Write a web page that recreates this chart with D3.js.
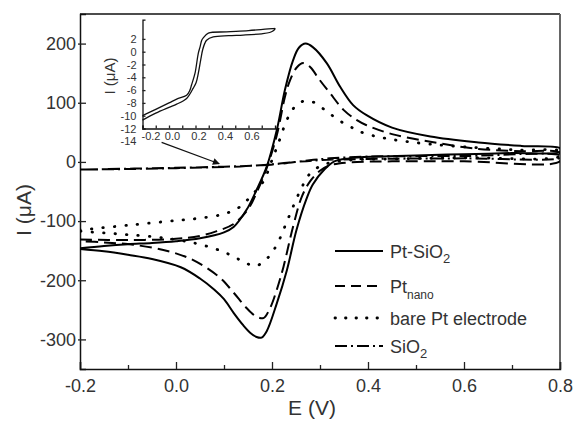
<!DOCTYPE html>
<html lang="en">
<head>
<meta charset="UTF-8">
<title>Cyclic voltammograms</title>
<script src="https://d3js.org/d3.v7.min.js"></script>
<style>
  body { margin: 0; background: #fff; }
  svg { display: block; font-family: "Liberation Sans", Arial, sans-serif; }
  .tick text { fill: #333; }
  .domain { stroke: #111; stroke-width: 1.5; }
  .tick line { stroke: #222; stroke-width: 1.3; }
</style>
</head>
<body>
<svg id="chart" width="575" height="421"></svg>
<script>
// values: E in V, I in µA, each loop = forward scan then reverse scan
const ptSiO2E = [-0.2, -0.15, -0.1, -0.05, 0.0, 0.05, 0.1, 0.12, 0.147, 0.168, 0.189, 0.21, 0.227, 0.244, 0.256, 0.27, 0.285, 0.314, 0.342, 0.369, 0.397, 0.45, 0.53, 0.63, 0.72, 0.8,
                 0.8, 0.7, 0.6, 0.5, 0.42, 0.36, 0.33, 0.31, 0.285, 0.272, 0.251, 0.231, 0.21, 0.189, 0.178, 0.168, 0.155, 0.14, 0.12, 0.1, 0.08, 0.05, 0.01, -0.05, -0.1, -0.15, -0.2];
const ptSiO2I = [-146, -142, -139, -137, -134, -129, -119, -110, -81, -47, -8, 54, 122, 172, 193, 200, 194, 167, 127, 96, 79, 58, 43, 33, 27, 23,
                 17, 15, 13, 11, 9, 6, 1, -12, -38, -62, -115, -183, -239, -286, -297, -296, -289, -276, -255, -232, -216, -197, -178, -164, -157, -151, -147];

const ptNanoE = [-0.2, -0.1, 0.0, 0.05, 0.085, 0.12, 0.15, 0.17, 0.19, 0.21, 0.227, 0.2375, 0.252, 0.265, 0.28, 0.297, 0.321, 0.349, 0.376, 0.397, 0.45, 0.53, 0.63, 0.72, 0.8,
                 0.8, 0.6, 0.45, 0.36, 0.32, 0.3, 0.28, 0.262, 0.244, 0.224, 0.21, 0.196, 0.182, 0.165, 0.147, 0.119, 0.092, 0.036, -0.02, -0.089, -0.15, -0.2];
const ptNanoI = [-131, -132, -130, -125, -117, -105, -80, -48, -8, 45, 110, 138, 160, 167, 160, 141, 116, 88, 71, 62, 47, 34, 22, 18, 15,
                 1, 1, 1, -1, -6, -15, -32, -59, -109, -177, -216, -247, -264, -260, -247, -220, -196, -166, -150, -140, -136, -134];

const barePtE = [-0.2, -0.1, 0.0, 0.05, 0.1, 0.133, 0.158, 0.182, 0.2, 0.213, 0.234, 0.255, 0.279, 0.31, 0.338, 0.369, 0.394, 0.45, 0.53, 0.63, 0.72, 0.8,
                 0.8, 0.6, 0.45, 0.36, 0.31, 0.28, 0.258, 0.234, 0.21, 0.19, 0.165, 0.137, 0.099, 0.043, -0.03, -0.1, -0.15, -0.2];
const barePtI = [-115, -107, -99, -95, -88, -76, -56, -33, 3, 31, 76, 99, 103, 88, 71, 57, 48, 38, 30, 24, 20, 18,
                 10, 7, 5, 3, -4, -19, -50, -95, -140, -163, -176, -167, -152, -138, -128, -123, -120, -117];

const sio2E = [-0.2, -0.1, 0.0, 0.1, 0.15, 0.2, 0.25, 0.3, 0.4, 0.6, 0.8,
               0.8, 0.6, 0.4, 0.32, 0.27, 0.22, 0.17, 0.1, 0.0, -0.1, -0.2];
const sio2I = [-13, -12, -10.5, -8.5, -7, -4, 0, 3, 5, 6, 7,
               11, 10, 9, 6, 2, -3, -6, -8, -10, -11.5, -13];

// inset: SiO2 electrode alone
const insetE = [-0.2, -0.1, 0.0, 0.058, 0.133, 0.183, 0.205, 0.221, 0.24, 0.254, 0.27, 0.284, 0.334, 0.45, 0.56, 0.7, 0.76, 0.79, 0.8,
                0.78, 0.6, 0.435, 0.297, 0.26, 0.247, 0.235, 0.221, 0.196, 0.17, 0.158, 0.133, 0.058, 0.0, -0.1, -0.2];
const insetI = [-10.7, -9.6, -8.7, -8.2, -7.3, -5.7, -4.8, -3.4, -1.2, 0.3, 1.3, 1.8, 2.3, 2.5, 2.6, 2.8, 3.0, 3.3, 3.6,
                3.6, 3.3, 3.1, 2.9, 2.2, 1.8, 0.8, -0.25, -3.4, -5.2, -6.0, -6.8, -7.4, -8.0, -9.0, -10.0];

const xTicks = [-0.2, 0.0, 0.2, 0.4, 0.6, 0.8];
const xMinorTicks = [-0.1, 0.1, 0.3, 0.5, 0.7];
const yTicks = [-300, -200, -100, 0, 100, 200];
const insetXTicks = [-0.2, -0.1, 0.0, 0.1, 0.2, 0.3, 0.4, 0.5, 0.6, 0.7];
const insetXLabels = [-0.2, 0.0, 0.2, 0.4, 0.6];
const insetYTicks = [-14, -12, -10, -8, -6, -4, -2, 0, 2];

const legendLabels = [["Pt-SiO", "2"], ["Pt", "nano"], ["bare Pt electrode", ""], ["SiO", "2"]];
const dashes = ["none", "12,6", "0.5,11", "12,4,2,4"];
const legendDashes = ["none", "10,6", "0.5,10", "12,4,2,4"];

const margin = { top: 14, right: 15, bottom: 52, left: 80 };
const width = 575 - margin.left - margin.right;
const height = 421 - margin.top - margin.bottom;

// plain hyphen for negative numbers, like the original
const fmt1 = d => d.toFixed(1);
const fmt0 = d => String(d);

const svg = d3.select("#chart");
const g = svg.append("g").attr("transform", `translate(${margin.left},${margin.top})`);

const x = d3.scaleLinear().domain([-0.2, 0.8]).range([0, width]);
const y = d3.scaleLinear().domain([-350, 250]).range([height, 0]);

g.append("clipPath").attr("id", "plotClip")
    .append("rect").attr("width", width).attr("height", height);

// frame top / right
g.append("line").attr("x1", 0).attr("x2", width).attr("y1", 0).attr("y2", 0)
    .attr("stroke", "#111").attr("stroke-width", 1.5);
g.append("line").attr("x1", width).attr("x2", width).attr("y1", 0).attr("y2", height)
    .attr("stroke", "#666").attr("stroke-width", 2);

// axes
g.append("g")
    .attr("transform", `translate(0,${height})`)
    .call(d3.axisBottom(x).tickValues(xTicks).tickSize(-7).tickPadding(10).tickFormat(fmt1))
    .call(a => a.selectAll("text").attr("font-size", 18).attr("font-family", "Liberation Sans, Arial, sans-serif"));

g.append("g")
    .attr("transform", `translate(0,${height})`)
    .call(d3.axisBottom(x).tickValues(xMinorTicks).tickSize(-4).tickFormat(""))
    .call(a => a.select(".domain").remove());

g.append("g")
    .call(d3.axisLeft(y).tickValues(yTicks).tickSize(-6).tickPadding(4).tickFormat(fmt0))
    .call(a => a.selectAll(".tick line").attr("x1", -2))
    .call(a => a.selectAll("text").attr("font-size", 18).attr("font-family", "Liberation Sans, Arial, sans-serif"));

svg.append("text")
    .attr("x", 312).attr("y", 415)
    .attr("text-anchor", "middle")
    .attr("font-size", 21).attr("fill", "#333")
    .text("E (V)");

svg.append("text")
    .attr("transform", "translate(31,210) rotate(-90)")
    .attr("text-anchor", "middle")
    .attr("font-size", 21).attr("fill", "#333")
    .text("I (\u03bcA)");

// curves
const line = d3.line()
    .x(d => x(d[0]))
    .y(d => y(d[1]))
    .curve(d3.curveCatmullRom.alpha(0.5));

const curves = [
    d3.zip(ptSiO2E, ptSiO2I),
    d3.zip(ptNanoE, ptNanoI),
    d3.zip(barePtE, barePtI),
    d3.zip(sio2E, sio2I)
];

const plot = g.append("g").attr("clip-path", "url(#plotClip)");
plot.selectAll("path.cv")
    .data(curves)
    .enter()
    .append("path")
    .attr("class", "cv")
    .attr("d", line)
    .attr("fill", "none")
    .attr("stroke", "#000")
    .attr("stroke-width", (d, i) => i === 2 ? 2.8 : 2)
    .attr("stroke-linecap", (d, i) => i === 2 ? "round" : "butt")
    .attr("stroke-dasharray", (d, i) => dashes[i]);

// legend
const rowY = [237, 272, 304, 332];
const legend = g.append("g").attr("transform", "translate(255,0)");
legendLabels.forEach((lab, i) => {
    legend.append("line")
        .attr("x1", 0).attr("x2", 48)
        .attr("y1", rowY[i]).attr("y2", rowY[i])
        .attr("stroke", "#000")
        .attr("stroke-width", i === 2 ? 2.8 : 2.2)
        .attr("stroke-linecap", i === 2 ? "round" : "butt")
        .attr("stroke-dasharray", legendDashes[i]);
    const t = legend.append("text")
        .attr("x", 55).attr("y", rowY[i] + 6.5)
        .attr("font-size", 18).attr("fill", "#333");
    t.append("tspan").text(lab[0]);
    if (lab[1]) {
        t.append("tspan")
            .attr("font-size", lab[1] === "2" ? 13 : 12)
            .attr("dy", lab[1] === "2" ? 5 : 6)
            .text(lab[1]);
    }
});

// arrow pointing from inset to the SiO2 curve
svg.append("defs").append("marker")
    .attr("id", "arrowHead")
    .attr("viewBox", "0 0 10 10")
    .attr("refX", 9).attr("refY", 5)
    .attr("markerWidth", 9).attr("markerHeight", 7)
    .attr("markerUnits", "userSpaceOnUse")
    .attr("orient", "auto")
    .append("path").attr("d", "M0,0 L10,5 L0,10 z").attr("fill", "#111");

g.append("line")
    .attr("x1", x(-0.03)).attr("y1", y(33))
    .attr("x2", x(0.09)).attr("y2", y(-3))
    .attr("stroke", "#111").attr("stroke-width", 1.2)
    .attr("marker-end", "url(#arrowHead)");

// inset
const xi = d3.scaleLinear().domain([-0.2, 0.8]).range([142.5, 275]);
const yi = d3.scaleLinear().domain([-12, 5]).range([128.5, 19.7]);
const inset = svg.append("g");

inset.append("g")
    .attr("transform", `translate(0,${yi(-12)})`)
    .call(d3.axisBottom(xi).tickValues(insetXTicks).tickSize(-3).tickPadding(4)
        .tickFormat(d => insetXLabels.some(v => Math.abs(v - d) < 1e-9) ? fmt1(d) : ""))
    .call(a => a.select(".domain").style("stroke-width", 1.3))
    .call(a => a.selectAll("text").attr("font-size", 11).attr("dx", 3))
    .call(a => a.selectAll(".tick").filter(d => d === -0.2).select("text").attr("dx", 8));

inset.append("g")
    .attr("transform", `translate(${xi(-0.2)},0)`)
    .call(d3.axisLeft(yi).tickValues(insetYTicks).tickSize(-3).tickPadding(6).tickFormat(fmt0))
    .call(a => a.select(".domain").style("stroke-width", 1.3))
    .call(a => a.selectAll(".tick").filter(d => d < -12).select("line").remove())
    .call(a => a.selectAll("text").attr("font-size", 11));

inset.append("text")
    .attr("transform", "translate(115,76) rotate(-90)")
    .attr("text-anchor", "middle")
    .attr("font-size", 15).attr("fill", "#333")
    .text("I (\u03bcA)");

inset.append("path")
    .datum(d3.zip(insetE, insetI))
    .attr("d", d3.line().x(d => xi(d[0])).y(d => yi(d[1])).curve(d3.curveCatmullRom.alpha(0.5)))
    .attr("fill", "none")
    .attr("stroke", "#111")
    .attr("stroke-width", 1.3);
</script>
</body>
</html>
